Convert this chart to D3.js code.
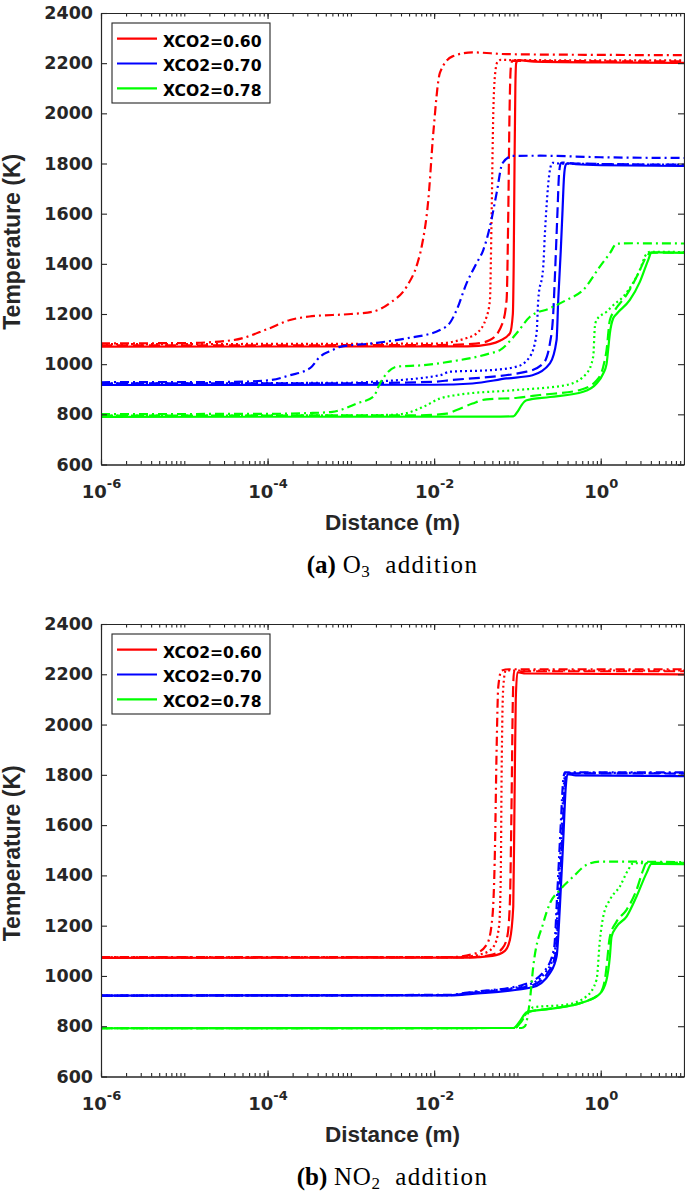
<!DOCTYPE html>
<html><head><meta charset="utf-8">
<script src="https://cdn.jsdelivr.net/npm/d3@7/dist/d3.min.js"></script>
<style>
body{margin:0;background:#fff;}
svg{display:block;}
</style></head><body>
<svg id="chart" width="685" height="1192"></svg>
<script>
// ---------- texts / ticks ----------
const legendLabels = ["XCO2=0.60", "XCO2=0.70", "XCO2=0.78"];
const yTickValues = [600, 800, 1000, 1200, 1400, 1600, 1800, 2000, 2200, 2400];
const xLabelTicks = [1e-6, 1e-4, 1e-2, 1];
const xDomain = [1e-6, 10];
const yDomain = [600, 2400];
const xTitle = "Distance (m)";
const yTitle = "Temperature (K)";
const captionA = ["(a)", "O", "3", "addition"];
const captionB = ["(b)", "NO", "2", "addition"];

// ---------- data: [distance (m), temperature (K)] ----------
// (a) O3 addition
const o3_060_solid = [[1e-6,1070],[0.02512,1071],[0.04677,1080],[0.06166,1093],[0.08128,1123],[0.0881,1200],[0.0902,1400],[0.0923,1800],[0.0944,2100],[0.0966,2200],[0.1023,2212],[0.1585,2206],[1,2203],[10,2201]];
const o3_060_dashed = [[1e-6,1075],[0.01,1076],[0.03162,1082],[0.04677,1096],[0.06607,1163],[0.07413,1256],[0.07762,1600],[0.08035,2000],[0.08318,2180],[0.0871,2210],[0.1259,2209],[10,2207]];
const o3_060_dotted = [[1e-6,1080],[0.01,1082],[0.02455,1104],[0.03236,1123],[0.04266,1189],[0.04677,1256],[0.0490,1600],[0.05129,2000],[0.0537,2150],[0.05754,2205],[0.0631,2213],[0.1,2212],[10,2211]];
const o3_060_dashdot = [[1e-6,1083],[1e-5,1084],[3.89e-5,1096],[1e-4,1140],[1.862e-4,1176],[3.162e-4,1190],[1e-3,1200],[1.82e-3,1209],[2.951e-3,1244],[4.677e-3,1309],[6.31e-3,1403],[7.079e-3,1468],[8.511e-3,1655],[9.772e-3,1922],[0.01175,2162],[0.0166,2227],[0.02884,2243],[0.07413,2236],[1,2233],[10,2232]];

const o3_070_solid = [[1e-6,917],[0.01,918],[0.02884,923],[0.07413,943],[0.1514,956],[0.2455,1003],[0.2951,1096],[0.309,1256],[0.3311,1450],[0.3467,1600],[0.3631,1750],[0.3802,1795],[0.3981,1801],[0.5012,1797],[1,1793],[10,1790]];
const o3_070_dashed = [[1e-6,923],[1e-3,924],[0.01,930],[0.01549,936],[0.1288,970],[0.2042,1003],[0.2455,1083],[0.2692,1203],[0.2818,1350],[0.302,1600],[0.3162,1760],[0.3311,1800],[0.3467,1804],[0.5012,1800],[10,1795]];
const o3_070_dotted = [[1e-6,923],[1e-3,926],[1.82e-3,930],[0.01175,956],[0.01549,970],[0.04677,976],[0.09772,990],[0.1413,1030],[0.1698,1123],[0.1778,1256],[0.2042,1389],[0.2138,1522],[0.2455,1774],[0.263,1803],[0.3162,1800],[10,1795]];
const o3_070_dashdot = [[1e-6,928],[3.162e-5,929],[1e-4,935],[1.862e-4,956],[3.236e-4,984],[4.266e-4,1030],[6.026e-4,1056],[7.413e-4,1069],[1.82e-3,1083],[4.677e-3,1103],[0.01175,1136],[0.01585,1170],[0.01862,1216],[0.02455,1323],[0.03236,1403],[0.0389,1455],[0.04677,1548],[0.05623,1682],[0.06607,1801],[0.0871,1830],[0.1862,1831],[1,1825],[10,1822]];

const o3_078_solid = [[1e-6,790],[0.0631,791],[0.08913,792],[0.1023,815],[0.1122,837],[0.1288,856],[0.2455,869],[0.6166,890],[0.8913,923],[1.072,963],[1.175,1000],[1.23,1060],[1.288,1123],[1.413,1183],[1.549,1200],[2.239,1256],[2.951,1328],[3.715,1415],[4.074,1445],[5.012,1446],[10,1444]];
const o3_078_dashed = [[1e-6,795],[6.31e-3,796],[0.01413,803],[0.01862,817],[0.02884,843],[0.04266,860],[0.1,866],[0.1862,877],[0.5623,897],[0.8913,935],[1.072,990],[1.175,1056],[1.288,1176],[1.479,1215],[2.042,1276],[2.818,1360],[3.548,1429],[3.981,1445],[10,1445]];
const o3_078_dotted = [[1e-6,795],[1e-3,796],[2.951e-3,798],[4.677e-3,805],[7.413e-3,830],[0.01175,863],[0.01862,877],[0.09772,897],[0.389,917],[0.6761,963],[0.8128,1030],[0.8511,1150],[0.8913,1176],[1.175,1209],[1.413,1235],[1.862,1269],[2.951,1376],[3.548,1440],[3.981,1448],[10,1447]];
const o3_078_dashdot = [[1e-6,801],[1e-4,802],[3.162e-4,805],[6.026e-4,810],[7.413e-4,817],[1.175e-3,843],[1.862e-3,870],[2.239e-3,923],[2.692e-3,963],[3.548e-3,990],[7.413e-3,996],[0.01549,1010],[0.04677,1043],[0.06166,1056],[0.09772,1123],[0.1413,1189],[0.2455,1223],[0.389,1256],[0.6166,1296],[0.9772,1389],[1.288,1442],[1.549,1480],[2.512,1482],[10,1481]];

// (b) NO2 addition
const no2_060_solid = [[1e-6,1072],[0.02512,1073],[0.05012,1080],[0.07079,1100],[0.08128,1144],[0.08913,1276],[0.0923,1700],[0.0955,2100],[0.1,2208],[0.1259,2203],[10,2200]];
const no2_060_dashed = [[1e-6,1073],[0.02512,1074],[0.05012,1085],[0.06607,1110],[0.07586,1160],[0.08128,1300],[0.08511,1700],[0.0881,2100],[0.0912,2212],[10,2212]];
const no2_060_dotted = [[1e-6,1074],[0.01995,1075],[0.03981,1090],[0.05248,1120],[0.06026,1200],[0.0631,1400],[0.06457,1800],[0.06761,2150],[0.07244,2215],[10,2215]];
const no2_060_dashdot = [[1e-6,1075],[0.01585,1075],[0.03162,1090],[0.04365,1130],[0.05012,1236],[0.0537,1500],[0.05623,1900],[0.05888,2150],[0.06457,2215],[0.07943,2220],[10,2220]];

const no2_070_solid = [[1e-6,922],[0.01585,923],[0.02884,929],[0.1514,955],[0.2455,1011],[0.2951,1077],[0.3236,1276],[0.3548,1541],[0.3802,1750],[0.3981,1803],[0.5012,1798],[10,1795]];
const no2_070_dashed = [[1e-6,922],[0.01585,924],[0.02884,933],[0.1413,960],[0.2344,1015],[0.2884,1090],[0.3162,1300],[0.3467,1560],[0.3715,1760],[0.389,1806],[10,1805]];
const no2_070_dotted = [[1e-6,922],[0.01585,924],[0.02884,935],[0.1259,962],[0.2239,1020],[0.2818,1100],[0.309,1320],[0.3388,1580],[0.3631,1770],[0.3802,1808],[10,1807]];
const no2_070_dashdot = [[1e-6,922],[0.01585,925],[0.02512,934],[0.1122,963],[0.2138,1022],[0.2754,1110],[0.302,1340],[0.3311,1600],[0.3548,1780],[0.3715,1810],[10,1810]];

const no2_078_solid = [[1e-6,792],[0.08913,793],[0.1072,820],[0.1288,855],[0.2455,869],[0.6166,895],[0.9772,929],[1.175,985],[1.288,1077],[1.349,1156],[1.549,1196],[2.042,1236],[2.692,1316],[3.548,1409],[4.074,1446],[10,1445]];
const no2_078_dashed = [[1e-6,792],[0.09333,793],[0.1122,820],[0.1349,857],[0.2455,870],[0.6166,896],[0.9772,930],[1.122,985],[1.175,1037],[1.288,1156],[1.549,1216],[2.042,1263],[2.692,1342],[3.236,1422],[3.548,1450],[10,1450]];
const no2_078_dotted = [[1e-6,792],[0.09333,793],[0.1122,825],[0.1349,860],[0.1549,875],[0.389,886],[0.6761,919],[0.8913,985],[0.9772,1142],[1.072,1236],[1.288,1303],[1.698,1356],[2.138,1422],[2.455,1448],[10,1450]];
const no2_078_dashdot = [[1e-6,792],[0.1122,793],[0.123,800],[0.1413,905],[0.1549,1037],[0.2042,1210],[0.2455,1289],[0.3236,1342],[0.4677,1395],[0.6761,1442],[0.9772,1455],[10,1453]];

// ---------- styles ----------
const colors = ["#ff0000", "#0000ff", "#00ff00"];
const dashes = {solid: null, dashed: "11,5", dotted: "2,3", dashdot: "9,4,2,4"};

const seriesA = [
  {d: o3_060_solid, c: 0, s: "solid"}, {d: o3_060_dashed, c: 0, s: "dashed"}, {d: o3_060_dotted, c: 0, s: "dotted"}, {d: o3_060_dashdot, c: 0, s: "dashdot"},
  {d: o3_070_solid, c: 1, s: "solid"}, {d: o3_070_dashed, c: 1, s: "dashed"}, {d: o3_070_dotted, c: 1, s: "dotted"}, {d: o3_070_dashdot, c: 1, s: "dashdot"},
  {d: o3_078_solid, c: 2, s: "solid"}, {d: o3_078_dashed, c: 2, s: "dashed"}, {d: o3_078_dotted, c: 2, s: "dotted"}, {d: o3_078_dashdot, c: 2, s: "dashdot"}
];
const seriesB = [
  {d: no2_060_solid, c: 0, s: "solid"}, {d: no2_060_dashed, c: 0, s: "dashed"}, {d: no2_060_dotted, c: 0, s: "dotted"}, {d: no2_060_dashdot, c: 0, s: "dashdot"},
  {d: no2_070_solid, c: 1, s: "solid"}, {d: no2_070_dashed, c: 1, s: "dashed"}, {d: no2_070_dotted, c: 1, s: "dotted"}, {d: no2_070_dashdot, c: 1, s: "dashdot"},
  {d: no2_078_solid, c: 2, s: "solid"}, {d: no2_078_dashed, c: 2, s: "dashed"}, {d: no2_078_dotted, c: 2, s: "dotted"}, {d: no2_078_dashdot, c: 2, s: "dashdot"}
];

const panels = [
  {top: 13, bottom: 464.5, series: seriesA, caption: captionA},
  {top: 624, bottom: 1076.5, series: seriesB, caption: captionB}
];

const axisColor = "#262626";
const tickFont = "'DejaVu Sans', sans-serif";
const left = 101, right = 684;
const svg = d3.select("#chart");

panels.forEach((p, i) => {
  const x = d3.scaleLog().domain(xDomain).range([left, right]);
  const y = d3.scaleLinear().domain(yDomain).range([p.bottom, p.top]);
  const g = svg.append("g");

  const clipId = "clip" + i;
  g.append("clipPath").attr("id", clipId).append("rect")
    .attr("x", left).attr("y", p.top).attr("width", right - left).attr("height", p.bottom - p.top);

  const line = d3.line().x(d => x(d[0])).y(d => y(d[1])).curve(d3.curveMonotoneX);
  const lg = g.append("g").attr("clip-path", `url(#${clipId})`);
  p.series.forEach(s => {
    lg.append("path").attr("d", line(s.d))
      .attr("fill", "none").attr("stroke", colors[s.c]).attr("stroke-width", 2.2)
      .attr("stroke-dasharray", dashes[s.s]);
  });

  // axes
  const minorTicks = x.ticks();
  const styleAxis = sel => {
    sel.selectAll("path.domain").attr("stroke", axisColor).attr("stroke-width", 1.2);
    sel.selectAll(".tick line").attr("stroke", axisColor).attr("stroke-width", 1.1);
  };
  g.append("g").attr("transform", `translate(0,${p.bottom})`)
    .call(d3.axisBottom(x).tickValues(minorTicks).tickSize(-3.5).tickSizeOuter(0).tickFormat(""))
    .call(styleAxis);
  g.append("g").attr("transform", `translate(0,${p.top})`)
    .call(d3.axisTop(x).tickValues(minorTicks).tickSize(-3.5).tickSizeOuter(0).tickFormat(""))
    .call(styleAxis);
  g.append("g").attr("transform", `translate(0,${p.top})`)
    .call(d3.axisTop(x).tickValues(xLabelTicks).tickSize(-6).tickSizeOuter(0).tickFormat(""))
    .call(styleAxis);
  const xb = g.append("g").attr("transform", `translate(0,${p.bottom})`)
    .call(d3.axisBottom(x).tickValues(xLabelTicks).tickSize(-6).tickSizeOuter(0))
    .call(styleAxis);
  xb.selectAll(".tick text").each(function(d) {
    const t = d3.select(this);
    t.text(null).attr("y", 33.5).attr("dy", null)
      .attr("font-family", tickFont).attr("font-weight", "bold").attr("font-size", "18px")
      .attr("fill", axisColor).attr("text-anchor", "middle");
    t.append("tspan").text("10");
    t.append("tspan").attr("dy", -10).attr("font-size", "13px").text(String(Math.round(Math.log10(d))));
  });

  const yl = g.append("g").attr("transform", `translate(${left},0)`)
    .call(d3.axisLeft(y).tickValues(yTickValues).tickSize(-6).tickSizeOuter(0).tickPadding(8).tickFormat(d3.format("d")))
    .call(styleAxis);
  yl.selectAll(".tick text").attr("font-family", tickFont).attr("font-weight", "bold")
    .attr("font-size", "17.5px").attr("fill", axisColor);
  g.append("g").attr("transform", `translate(${right},0)`)
    .call(d3.axisRight(y).tickValues(yTickValues).tickSize(-6).tickSizeOuter(0).tickFormat(""))
    .call(styleAxis);

  // titles
  g.append("text").attr("x", (left + right) / 2).attr("y", p.bottom + 65.5)
    .attr("text-anchor", "middle").attr("font-family", "'Liberation Sans', Arial, sans-serif")
    .attr("font-weight", "bold").attr("font-size", "22.5px").attr("fill", axisColor).text(xTitle);
  g.append("text").attr("transform", `translate(19.5,${(p.top + p.bottom) / 2 + 3}) rotate(-90)`)
    .attr("text-anchor", "middle").attr("font-family", "'Liberation Sans', Arial, sans-serif")
    .attr("font-weight", "bold").attr("font-size", "23px").attr("fill", axisColor).text(yTitle);

  // legend
  const lgX = 112, lgY = p.top + 10;
  const leg = g.append("g");
  leg.append("rect").attr("x", lgX).attr("y", lgY).attr("width", 158).attr("height", 80)
    .attr("fill", "#fff").attr("stroke", axisColor).attr("stroke-width", 1.1);
  legendLabels.forEach((lab, k) => {
    const cy = lgY + 15.7 + k * 24.8;
    leg.append("line").attr("x1", lgX + 5).attr("x2", lgX + 45).attr("y1", cy).attr("y2", cy)
      .attr("stroke", colors[k]).attr("stroke-width", 2.2);
    leg.append("text").attr("x", lgX + 51).attr("y", cy + 7.8)
      .attr("font-family", tickFont).attr("font-weight", "bold").attr("font-size", "15.6px")
      .attr("fill", "#000").text(lab);
  });

  // caption
  const cap = g.append("text").attr("x", 392.5).attr("y", p.bottom + 108.5)
    .attr("text-anchor", "middle").attr("font-family", "'Liberation Serif', 'Times New Roman', serif")
    .attr("font-size", "25px").attr("fill", "#000").style("white-space", "pre");
  cap.append("tspan").attr("font-weight", "bold").text(p.caption[0]);
  cap.append("tspan").attr("letter-spacing", "0.6px").text(" " + p.caption[1]);
  cap.append("tspan").attr("font-size", "17px").attr("dy", 4).text(p.caption[2]);
  cap.append("tspan").attr("dy", -4).attr("letter-spacing", "1.4px").text("  " + p.caption[3]);
});
</script>
</body></html>
